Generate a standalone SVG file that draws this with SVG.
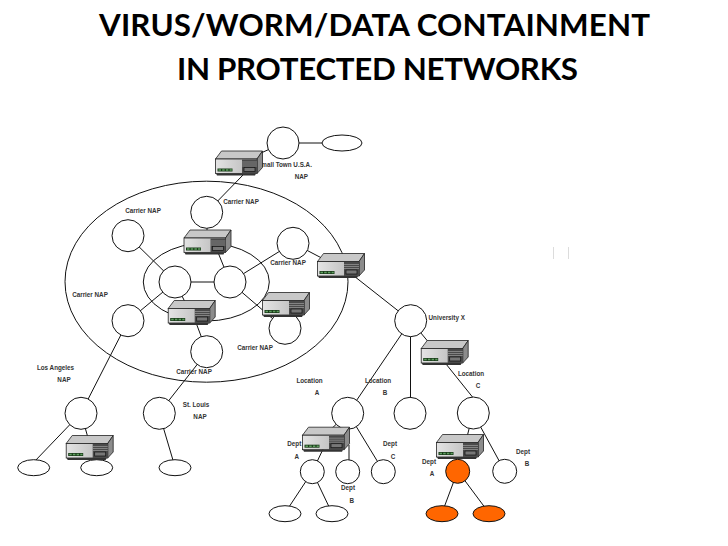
<svg xmlns="http://www.w3.org/2000/svg" width="728" height="546" viewBox="0 0 728 546">
<style>
.ln{stroke:#111;stroke-width:1;fill:none}
.n{fill:#fff;stroke:#111;stroke-width:1}
.o{fill:#FF6600;stroke:#111;stroke-width:1}
.ring{fill:none;stroke:#111;stroke-width:1}
.t{font-family:"Liberation Sans",Arial,sans-serif;font-size:6.3px;font-weight:bold;fill:#333;text-anchor:middle}
.h{font-family:Lato,"Liberation Sans",sans-serif;font-size:31.3px;font-weight:700;fill:#000;text-anchor:middle}
</style>
<defs>
<linearGradient id="face" x1="0" y1="0" x2="1" y2="0"><stop offset="0" stop-color="#e4e4e4"/><stop offset="1" stop-color="#b4b4b4"/></linearGradient>
<g id="router">
<path d="M6.5 0.5H47.5L42 8.5H0.5Z" fill="#c8c8c8" stroke="#222" stroke-width="0.8"/>
<path d="M42 8.5L47.5 0.5V17L42 23Z" fill="#8c8c8c" stroke="#222" stroke-width="0.8"/>
<rect x="0.5" y="8.5" width="41.5" height="14.5" fill="url(#face)" stroke="#222" stroke-width="0.8"/>
<rect x="27" y="9" width="15" height="14" fill="#4a4a4a"/>
<path d="M27 11.5H42M27 13.5H42M27 15.5H42" stroke="#aaa" stroke-width="0.6"/>
<rect x="29" y="17" width="11" height="4" fill="#777" stroke="#111" stroke-width="0.7"/>
<path d="M1 23H41L40 25H2Z" fill="#333"/>
<rect x="2.5" y="18" width="15" height="3" fill="#1a3a1a"/>
<path d="M3.5 19.5H6M7.2 19.5H9.7M10.9 19.5H13.4M14.6 19.5H16.8" stroke="#5fa05f" stroke-width="1.4"/>
</g>
</defs>
<g id="title">
<text class="h" x="374.5" y="36" textLength="551" lengthAdjust="spacing">VIRUS/WORM/DATA CONTAINMENT</text>
<text class="h" x="377.5" y="79.500" textLength="401" lengthAdjust="spacing">IN PROTECTED NETWORKS</text>
</g>
<g id="rings">
<ellipse class="ring" cx="206.5" cy="281.7" rx="141.5" ry="100.5"/>
<ellipse class="ring" cx="206.3" cy="282" rx="63" ry="39"/>
</g>
<g id="connectors">
<path class="ln" d="M283 143H342"/>
<path class="ln" d="M239 163L283 143"/>
<path class="ln" d="M243 175L207 212"/>
<path class="ln" d="M207 212V240"/>
<path class="ln" d="M128 236L175 282"/>
<path class="ln" d="M175 282H230"/>
<path class="ln" d="M175 282L128 321"/>
<path class="ln" d="M175 282L190 312"/>
<path class="ln" d="M215 245L230 282"/>
<path class="ln" d="M230 282L293 243"/>
<path class="ln" d="M293 243L335 265"/>
<path class="ln" d="M230 282L280 325"/>
<path class="ln" d="M192 312L207 352"/>
<path class="ln" d="M207 352L159 413"/>
<path class="ln" d="M128 321L81 413"/>
<path class="ln" d="M81 413L34 462"/>
<path class="ln" d="M81 413L90 445"/>
<path class="ln" d="M159 413L175 467"/>
<path class="ln" d="M96.700 450V467"/>
<path class="ln" d="M340 265L410.700 320.700"/>
<path class="ln" d="M410.700 320.700L348 413"/>
<path class="ln" d="M410.500 320.700V413"/>
<path class="ln" d="M410.700 320.700L435 350"/>
<path class="ln" d="M446 364L473.300 398"/>
<path class="ln" d="M473 413L465 445"/>
<path class="ln" d="M473 413L504.700 471"/>
<path class="ln" d="M457.700 471L442 513"/>
<path class="ln" d="M457.700 471L489 513"/>
<path class="ln" d="M348 413L325 435"/>
<path class="ln" d="M348 413L383.300 471"/>
<path class="ln" d="M349 445V472"/>
<path class="ln" d="M325 445L312.300 471.700"/>
<path class="ln" d="M312.300 471.700L285 513"/>
<path class="ln" d="M312.300 471.700L332 513"/>
</g>
<g id="labels">
<text class="t" x="284.500" y="166.500">Small Town U.S.A.</text>
<text class="t" x="301.300" y="178.500">NAP</text>
<text class="t" x="241" y="204.300">Carrier NAP</text>
<text class="t" x="143" y="213">Carrier NAP</text>
<text class="t" x="288" y="265">Carrier NAP</text>
<text class="t" x="90" y="297">Carrier NAP</text>
<text class="t" x="255" y="350">Carrier NAP</text>
<text class="t" x="194" y="374">Carrier NAP</text>
<text class="t" x="55.500" y="370.300">Los Angeles</text>
<text class="t" x="64" y="382">NAP</text>
<text class="t" x="196" y="407.300">St. Louis</text>
<text class="t" x="200" y="419">NAP</text>
<text class="t" x="309.500" y="383">Location</text>
<text class="t" x="317" y="395">A</text>
<text class="t" x="378" y="383">Location</text>
<text class="t" x="385" y="395">B</text>
<text class="t" x="294.300" y="446.300">Dept</text>
<text class="t" x="296.700" y="459">A</text>
<text class="t" x="390" y="446.300">Dept</text>
<text class="t" x="393" y="459">C</text>
<text class="t" x="348" y="490.300">Dept</text>
<text class="t" x="351.700" y="503">B</text>
<text class="t" x="446.700" y="320">University X</text>
<text class="t" x="471" y="376">Location</text>
<text class="t" x="478" y="388">C</text>
<text class="t" x="429" y="464">Dept</text>
<text class="t" x="432" y="476">A</text>
<text class="t" x="523" y="454">Dept</text>
<text class="t" x="527" y="466">B</text>
</g>
<g id="marks">
<path d="M553.500 247V259M568.500 247V259" stroke="#dcdcdc" stroke-width="1" fill="none"/>
</g>
<g id="n-town"><circle class="n" cx="283" cy="143" r="16"/></g>
<g id="n-town-host"><ellipse class="n" cx="342" cy="143" rx="20" ry="8"/></g>
<g id="n-carrier-top"><circle class="n" cx="206.700" cy="212.300" r="16"/></g>
<g id="n-carrier-ul"><circle class="n" cx="128" cy="235.700" r="16"/></g>
<g id="n-carrier-ur"><circle class="n" cx="293" cy="243.300" r="16"/></g>
<g id="n-inner-l"><circle class="n" cx="175" cy="282" r="16"/></g>
<g id="n-inner-r"><circle class="n" cx="230" cy="282" r="16"/></g>
<g id="n-carrier-ll"><circle class="n" cx="128" cy="320.700" r="16"/></g>
<g id="n-carrier-lr"><circle class="n" cx="285" cy="328.300" r="16"/></g>
<g id="n-carrier-bot"><circle class="n" cx="206.700" cy="351.700" r="16"/></g>
<g id="n-la"><circle class="n" cx="81" cy="413.300" r="16"/></g>
<g id="n-stl"><circle class="n" cx="159.300" cy="413.300" r="16"/></g>
<g id="n-la-h1"><ellipse class="n" cx="33.700" cy="467.700" rx="16" ry="8"/></g>
<g id="n-la-h2"><ellipse class="n" cx="96.700" cy="467.700" rx="16" ry="8"/></g>
<g id="n-stl-h"><ellipse class="n" cx="175" cy="467.700" rx="16" ry="8"/></g>
<g id="n-univ"><circle class="n" cx="410.700" cy="320.700" r="16"/></g>
<g id="n-loc-a"><circle class="n" cx="347.700" cy="413.300" r="16"/></g>
<g id="n-loc-b"><circle class="n" cx="410" cy="413.300" r="16"/></g>
<g id="n-loc-c"><circle class="n" cx="473.300" cy="413" r="16"/></g>
<g id="n-a-dept-a"><circle class="n" cx="312.300" cy="471.700" r="12"/></g>
<g id="n-a-dept-b"><circle class="n" cx="347.700" cy="471.700" r="12"/></g>
<g id="n-a-dept-c"><circle class="n" cx="383.300" cy="471.700" r="12"/></g>
<g id="n-a-h1"><ellipse class="n" cx="285" cy="513.700" rx="16" ry="8"/></g>
<g id="n-a-h2"><ellipse class="n" cx="332" cy="513.700" rx="16" ry="8"/></g>
<g id="n-c-dept-a"><circle class="o" cx="457.700" cy="471.300" r="12"/></g>
<g id="n-c-dept-b"><circle class="n" cx="504.700" cy="471.300" r="12"/></g>
<g id="n-c-h1"><ellipse class="o" cx="442" cy="513.700" rx="16" ry="8"/></g>
<g id="n-c-h2"><ellipse class="o" cx="489" cy="513.700" rx="16" ry="8"/></g>
<g id="r1"><use href="#router" x="215" y="150.500"/></g>
<g id="r2"><use href="#router" x="183.500" y="229.500"/></g>
<g id="r3"><use href="#router" x="317" y="253"/></g>
<g id="r4"><use href="#router" x="262" y="292"/></g>
<g id="r5"><use href="#router" x="167.700" y="300"/></g>
<g id="r6"><use href="#router" x="65.700" y="435"/></g>
<g id="r7"><use href="#router" x="302" y="426.700"/></g>
<g id="r8"><use href="#router" x="420.700" y="340"/></g>
<g id="r9"><use href="#router" x="436" y="434"/></g>
</svg>
